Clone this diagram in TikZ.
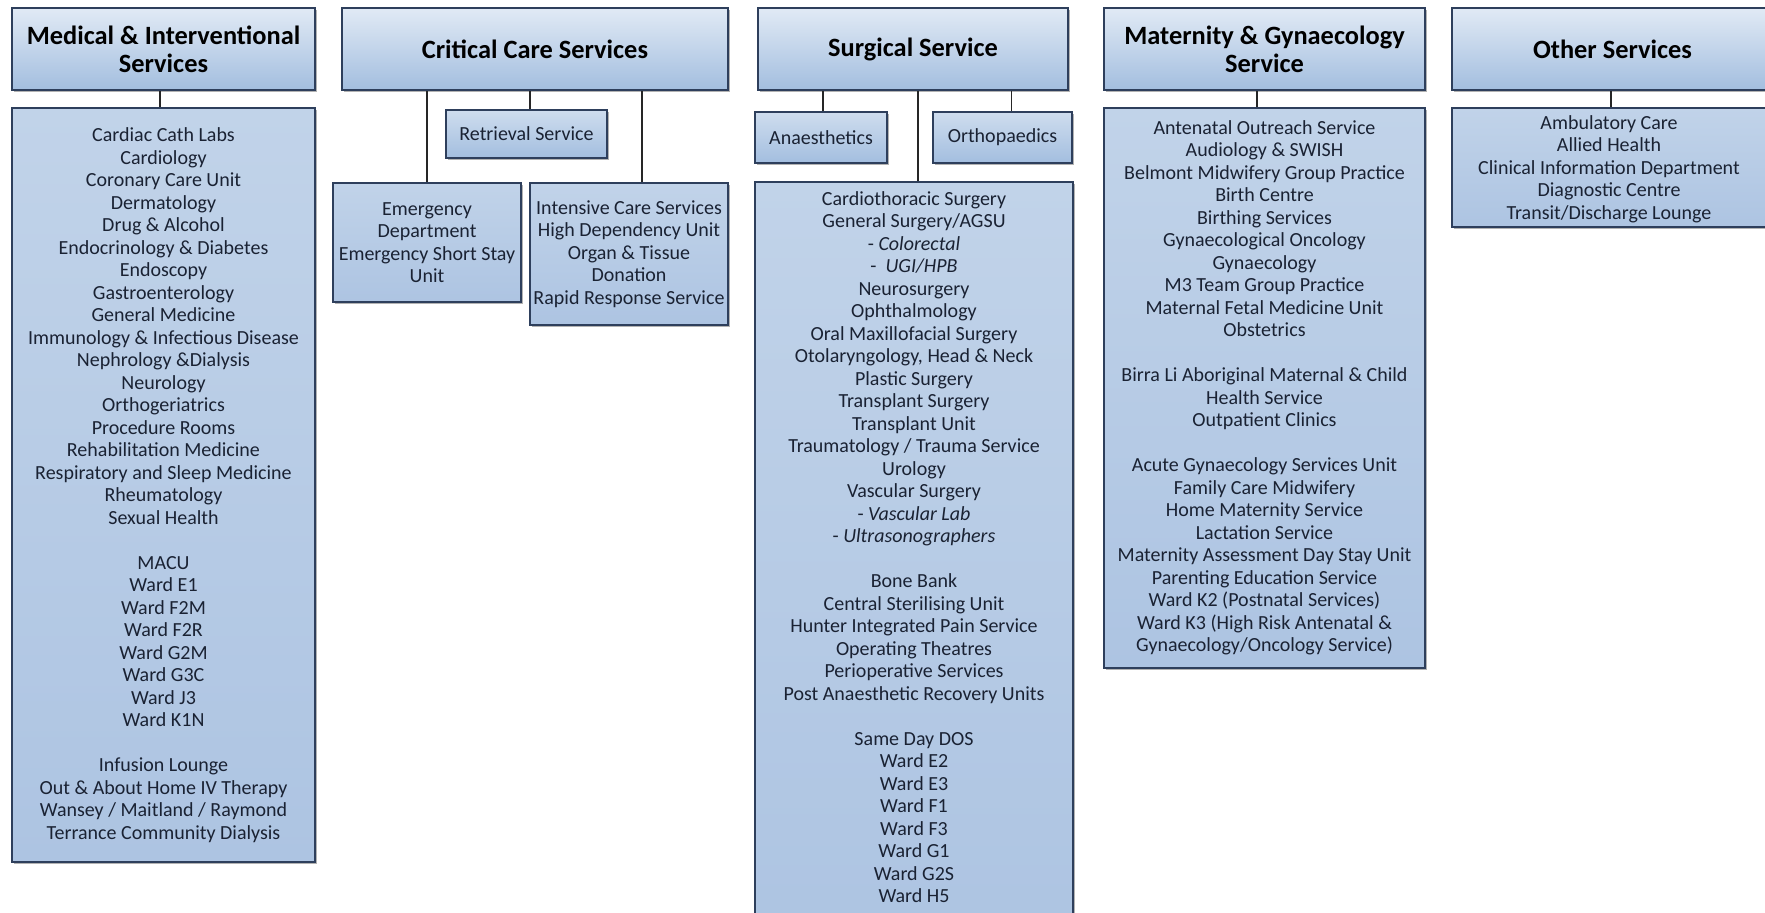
\documentclass[tikz,border=0pt]{standalone}
\usepackage{fontspec}
\setmainfont{Carlito}
\usetikzlibrary{shadows}
\definecolor{edge}{HTML}{2E3F5C}
\definecolor{hdtop}{HTML}{E1EAF5}
\definecolor{hdbot}{HTML}{A3BEDF}
\definecolor{bdtop}{HTML}{C1D3E9}
\definecolor{bdbot}{HTML}{ADC4E2}
\definecolor{txt}{HTML}{1A2233}
\begin{document}
\begin{tikzpicture}[x=0.5pt,y=-0.5pt,
  box/.style={draw=edge, line width=0.9pt, inner sep=0pt,
    drop shadow={shadow xshift=1.2pt, shadow yshift=-1.2pt, fill=black!50, opacity=0.6}},
  hdr/.style={box, top color=hdtop, bottom color=hdbot, font=\bfseries\fontsize{13.2}{14}\selectfont, align=center, text=black},
  sub/.style={box, top color=hdtop!70!hdbot, bottom color=hdbot, font=\fontsize{10}{11.25}\selectfont, align=center, text=txt},
  bdy/.style={box, top color=bdtop, bottom color=bdbot, font=\fontsize{10}{11.25}\selectfont, align=center, text=txt},
  bdtext/.style={font=\fontsize{10}{11.25}\selectfont, align=center, text=txt, inner sep=0pt},
  conn/.style={draw=black!85, line width=0.9pt}]
\clip (0,0) rectangle (1765,912);
\fill[white] (0,0) rectangle (1765,912);

% Medical & Interventional
\node[hdr, minimum width=151.5pt, minimum height=41pt] (med) at (163.5,49) {Medical \& Interventional\\Services};
\node[bdy, minimum width=151.5pt, minimum height=377pt] (medB) at (163.5,485) {};
\node[bdtext] (medT) at (163.5,485) {Cardiac Cath Labs\\Cardiology\\Coronary Care Unit\\Dermatology\\Drug \& Alcohol\\Endocrinology \& Diabetes\\Endoscopy\\Gastroenterology\\General Medicine\\Immunology \& Infectious Disease\\Nephrology \&Dialysis\\Neurology\\Orthogeriatrics\\Procedure Rooms\\Rehabilitation Medicine\\Respiratory and Sleep Medicine\\Rheumatology\\Sexual Health\\[11.25pt]MACU\\Ward E1\\Ward F2M\\Ward F2R\\Ward G2M\\Ward G3C\\Ward J3\\Ward K1N\\[11.25pt]Infusion Lounge\\Out \& About Home IV Therapy\\Wansey / Maitland / Raymond\\Terrance Community Dialysis};
\draw[conn] ([xshift=-1.75pt]medB.north) -- ([xshift=-1.75pt]medB.north |- med.south);

% Critical Care
\node[hdr, minimum width=193pt, minimum height=41pt] (crit) at (535,49) {Critical Care Services};
\node[sub, minimum width=80.5pt, minimum height=24pt] (retr) at (526.5,134) {Retrieval Service};
\node[bdy, minimum width=94pt, minimum height=59.5pt] (emer) at (427,242.5) {Emergency\\Department\\Emergency Short Stay\\Unit};
\node[bdy, minimum width=99pt, minimum height=71pt] (icu) at (629,254) {Intensive Care Services\\High Dependency Unit\\Organ \& Tissue\\Donation\\Rapid Response Service};
\draw[conn] ([xshift=1.75pt]retr.north) -- ([xshift=1.75pt]retr.north |- crit.south);
\draw[conn] (emer.north) -- (emer.north |- crit.south);
\draw[conn] ([xshift=6.5pt]icu.north) -- ([xshift=6.5pt]icu.north |- crit.south);

% Surgical
\node[hdr, minimum width=155pt, minimum height=41pt] (surg) at (913,49) {Surgical Service};
\node[sub, minimum width=66pt, minimum height=25.5pt] (anae) at (821,137.5) {Anaesthetics};
\node[sub, minimum width=69.5pt, minimum height=25.5pt] (orth) at (1002.5,137.5) {Orthopaedics};
\node[bdy, minimum width=159pt, minimum height=379pt] (surgB) at (914,561) {};
\node[bdtext] (surgT) at (914,547) {Cardiothoracic Surgery\\General Surgery/AGSU\\- \textit{Colorectal}\\-\ \ \textit{UGI/HPB}\\Neurosurgery\\Ophthalmology\\Oral Maxillofacial Surgery\\Otolaryngology, Head \& Neck\\Plastic Surgery\\Transplant Surgery\\Transplant Unit\\Traumatology / Trauma Service\\Urology\\Vascular Surgery\\- \textit{Vascular Lab}\\- \textit{Ultrasonographers}\\[11.25pt]Bone Bank\\Central Sterilising Unit\\Hunter Integrated Pain Service\\Operating Theatres\\Perioperative Services\\Post Anaesthetic Recovery Units\\[11.25pt]Same Day DOS\\Ward E2\\Ward E3\\Ward F1\\Ward F3\\Ward G1\\Ward G2S\\Ward H5};
\draw[conn] ([xshift=1pt]anae.north) -- ([xshift=1pt]anae.north |- surg.south);
\draw[conn] ([xshift=4.5pt]orth.north) -- ([xshift=4.5pt]orth.north |- surg.south);
\draw[conn] ([xshift=2pt]surgB.north) -- ([xshift=2pt]surgB.north |- surg.south);

% Maternity
\node[hdr, minimum width=160.5pt, minimum height=41pt] (mat) at (1264.5,49) {Maternity \& Gynaecology\\Service};
\node[bdy, minimum width=160.5pt, minimum height=280pt] (matB) at (1264.5,388) {};
\node[bdtext] (matT) at (1264.5,388) {Antenatal Outreach Service\\Audiology \& SWISH\\Belmont Midwifery Group Practice\\Birth Centre\\Birthing Services\\Gynaecological Oncology\\Gynaecology\\M3 Team Group Practice\\Maternal Fetal Medicine Unit\\Obstetrics\\[11.25pt]Birra Li Aboriginal Maternal \& Child\\Health Service\\Outpatient Clinics\\[11.25pt]Acute Gynaecology Services Unit\\Family Care Midwifery\\Home Maternity Service\\Lactation Service\\Maternity Assessment Day Stay Unit\\Parenting Education Service\\Ward K2 (Postnatal Services)\\Ward K3 (High Risk Antenatal \&\\Gynaecology/Oncology Service)};
\draw[conn] ([xshift=-3.75pt]matB.north) -- ([xshift=-3.75pt]matB.north |- mat.south);

% Other
\node[hdr, minimum width=160.5pt, minimum height=41pt] (oth) at (1612.5,49) {Other Services};
\node[bdy, minimum width=159pt, minimum height=59.5pt] (othB) at (1611,167.5) {};
\node[bdtext] (othT) at (1609,169) {Ambulatory Care\\Allied Health\\Clinical Information Department\\Diagnostic Centre\\Transit/Discharge Lounge};
\draw[conn] (othB.north) -- (othB.north |- oth.south);
\end{tikzpicture}
\end{document}
